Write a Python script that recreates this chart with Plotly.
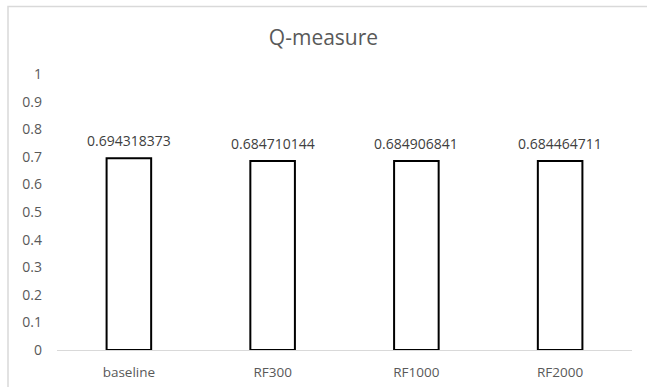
import plotly.graph_objects as go

categories = ["baseline", "RF300", "RF1000", "RF2000"]
values = [0.694318373, 0.684710144, 0.684906841, 0.684464711]
labels = ["0.694318373", "0.684710144", "0.684906841", "0.684464711"]
yticks = [0, 0.1, 0.2, 0.3, 0.4, 0.5, 0.6, 0.7, 0.8, 0.9, 1]
yticktext = ["0", "0.1", "0.2", "0.3", "0.4", "0.5", "0.6", "0.7", "0.8", "0.9", "1"]

W, H = 647, 387
ml, mr, mt, mb = 57, 15, 74, 37
pw, ph = W - ml - mr, H - mt - mb
FONT = "Open Sans"

fig = go.Figure(go.Bar(
    x=categories, y=values,
    marker=dict(color="white", line=dict(color="black", width=2)),
    width=0.31,
))

for c, v, t in zip(categories, values, labels):
    fig.add_annotation(x=c, y=v, text=t, showarrow=False, yanchor="bottom",
                       yshift=6, font=dict(family=FONT, size=14, color="#404040"))

fig.update_layout(
    width=W, height=H,
    margin=dict(l=ml, r=mr, t=mt, b=mb, autoexpand=False),
    paper_bgcolor="white", plot_bgcolor="white",
    title=dict(text="Q-measure", x=0.5, xanchor="center", y=1 - 38 / H, yanchor="middle",
               font=dict(family=FONT, size=21, color="#595959")),
    showlegend=False,
    xaxis=dict(showline=True, linecolor="#d9d9d9", linewidth=1, showgrid=False,
               ticks="", ticklabelstandoff=10, automargin=False,
               tickfont=dict(family=FONT, size=13.5, color="#595959")),
    yaxis=dict(range=[0, 1], tickvals=yticks, ticktext=yticktext, showgrid=False,
               showline=False, zeroline=False, ticks="", ticklabelstandoff=14,
               automargin=False,
               tickfont=dict(family=FONT, size=14, color="#595959")),
    shapes=[dict(type="rect", xref="paper", yref="paper",
                 x0=(8 - ml) / pw, x1=(W + 20 - ml) / pw,
                 y0=-(H + 20 - (mt + ph)) / ph, y1=(H - 6.5 - mb) / ph,
                 line=dict(color="#d9d9d9", width=1.5), fillcolor="rgba(0,0,0,0)", layer="below")],
)

fig.write_html("out.html", config={"displayModeBar": False},
               post_script="document.body.style.margin='0';document.body.style.overflow='hidden';")
